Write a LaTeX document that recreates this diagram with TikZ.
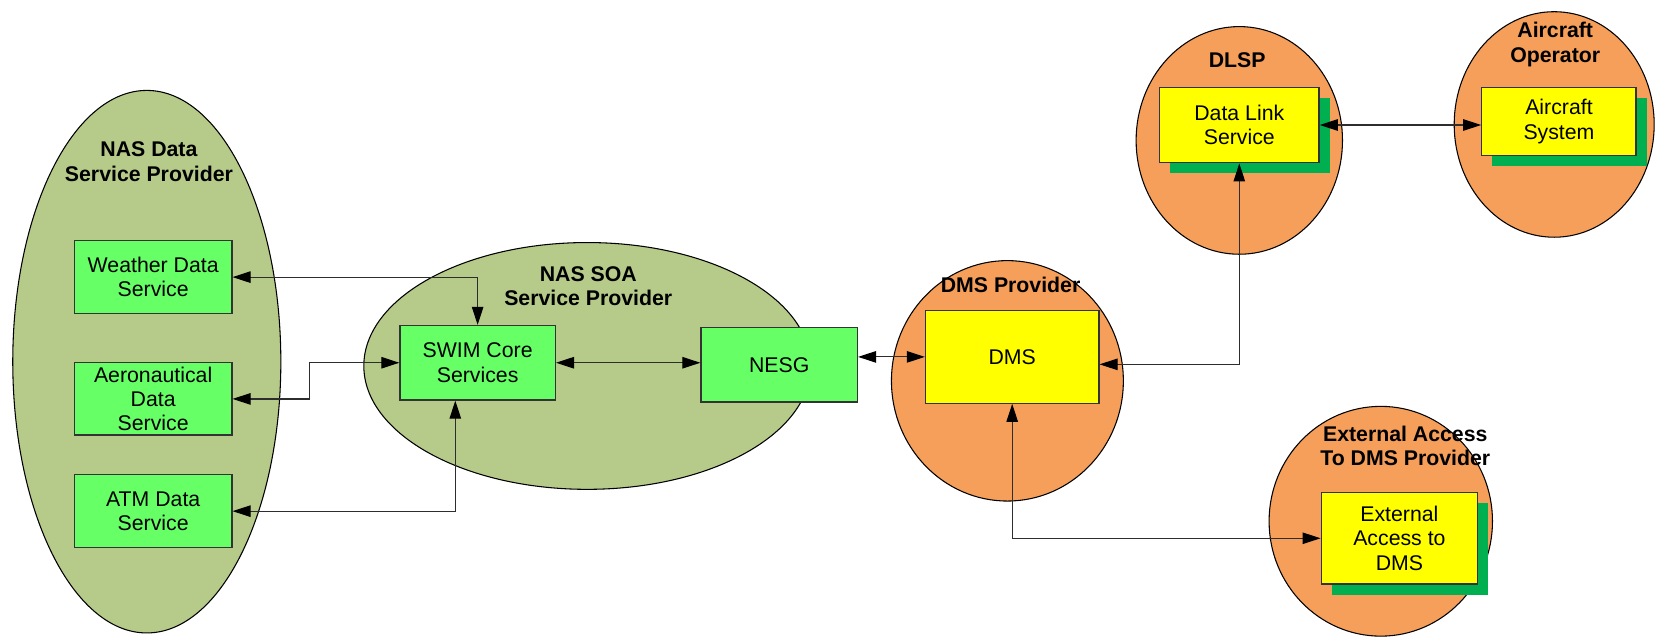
\documentclass[tikz,border=0pt]{standalone}
\usepackage{fontspec}
\setmainfont{Liberation Sans}
\usetikzlibrary{arrows.meta,calc,shadows,shapes.geometric}
\definecolor{soaolive}{RGB}{182,202,137}
\definecolor{boxgreen}{RGB}{102,255,102}
\definecolor{orangefill}{RGB}{245,159,91}
\definecolor{boxyellow}{RGB}{255,255,0}
\definecolor{shgreen}{RGB}{0,176,80}
\definecolor{linegray}{RGB}{45,45,45}
\tikzset{
  region/.style={ellipse, draw=black, line width=0.5pt, inner sep=0pt},
  olivereg/.style={region, fill=soaolive},
  orangereg/.style={region, fill=orangefill},
  title/.style={font=\fontsize{10}{11.5}\selectfont\bfseries, align=center, inner sep=0pt},
  gbox/.style={rectangle, draw=black!80, line width=0.6pt, fill=boxgreen, align=center,
    font=\fontsize{10}{11.5}\selectfont, inner sep=0pt},
  ybox/.style={rectangle, draw=black!80, line width=0.6pt, fill=boxyellow, align=center,
    font=\fontsize{10}{11.5}\selectfont, inner sep=0pt},
  shadowed/.style={drop shadow={shadow xshift=5pt, shadow yshift=-5pt, fill=shgreen, draw=none, opacity=1}},
  tip/.tip={Triangle[length=8.5pt,width=5.4pt,color=black]},
  bi/.style={draw=linegray, line width=0.55pt, tip-tip},
}
\begin{document}
\begin{tikzpicture}[x=0.5pt,y=-0.5pt]
\useasboundingbox (0,0) rectangle (1568,599);
% regions
\node[olivereg, minimum width=126pt, minimum height=255pt] (nasdsp) at (138,340) {};
\node[olivereg, minimum width=210pt, minimum height=116pt] (soa) at (552,344) {};
\node[orangereg, minimum width=109pt, minimum height=113pt] (dmsp) at (947,358) {};
\node[orangereg, minimum width=97pt, minimum height=107pt] (dlsp) at (1165,132) {};
\node[orangereg, minimum width=94pt, minimum height=106pt] (acop) at (1461,117) {};
\node[orangereg, minimum width=105pt, minimum height=108pt] (extp) at (1298,490) {};
% titles
\node[title] (tnasdsp) at (140,152) {NAS Data\\Service Provider};
\node[title] (tsoa) at (553,269) {NAS SOA\\Service Provider};
\node[title] (tdmsp) at (950,268) {DMS Provider};
\node[title] (tdlsp) at (1163,57) {DLSP};
\node[title] (tacop) at (1462,42) {Aircraft\\Operator};
\node[title] (textp) at (1321,419) {External Access\\To DMS Provider};
% boxes
\node[gbox, minimum width=74pt, minimum height=34.5pt] (weather) at (144,260.5) {Weather Data\\Service};
\node[gbox, minimum width=74pt, minimum height=34pt] (aero) at (144,375) {Aeronautical\\Data\\Service};
\node[gbox, minimum width=74pt, minimum height=34.5pt] (atm) at (144,480.5) {ATM Data\\Service};
\node[gbox, minimum width=73pt, minimum height=35pt] (swim) at (449,341) {SWIM Core\\Services};
\node[gbox, minimum width=73.5pt, minimum height=35pt] (nesg) at (732.5,343) {NESG};
\node[ybox, minimum width=81.5pt, minimum height=43.5pt] (dms) at (951.5,335.5) {DMS};
\node[ybox, shadowed, minimum width=75pt, minimum height=35.5pt] (dls) at (1165,117.5) {Data Link\\Service};
\node[ybox, shadowed, minimum width=72.5pt, minimum height=32pt] (acs) at (1465.5,114) {Aircraft\\System};
\node[ybox, shadowed, minimum width=73.5pt, minimum height=43pt] (ext) at (1315.5,506) {External\\Access to\\DMS};
% connectors
\coordinate (aerobend) at ($(aero.east)+(72,0)$);
\draw[bi] (weather.east) -| (swim.north);
\draw[bi] (aero.east) -- (aerobend) |- (swim.west);
\draw[bi] (atm.east) -| ($(swim.south)+(-21,0)$);
\draw[bi] (swim.east) -- (swim.east -| nesg.west);
\draw[bi] (dms.west -| nesg.east) -- (dms.west);
\draw[bi] ($(dms.east)+(0,7)$) -| (dls.south);
\draw[bi] (dls.east) -- (dls.east -| acs.west);
\draw[bi] (dms.south) |- (ext.west);
\end{tikzpicture}
\end{document}
